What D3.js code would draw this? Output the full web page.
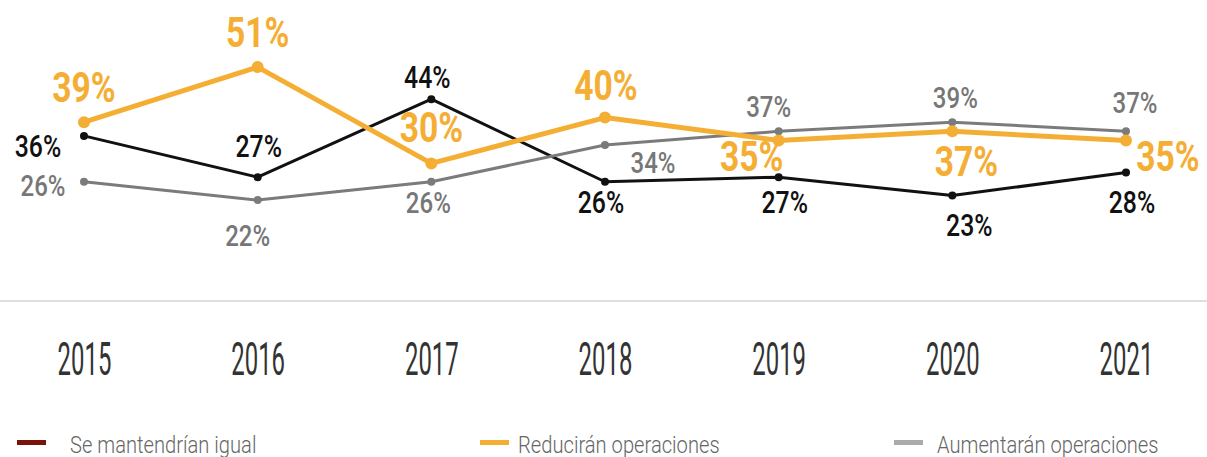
<!DOCTYPE html>
<html>
<head>
<meta charset="utf-8">
<script src="https://cdn.jsdelivr.net/npm/d3@7"></script>
<style>
  html, body { margin: 0; padding: 0; background: #fff; }
  svg { display: block; }
  text { font-family: Roboto, "Noto Sans", sans-serif; }
</style>
</head>
<body>
<svg id="chart" width="1207" height="457"></svg>
<script>
// ---- data ----
const years = ["2015", "2016", "2017", "2018", "2019", "2020", "2021"];
const seMantendrian = [36, 27, 44, 26, 27, 23, 28];
const reduciran = [39, 51, 30, 40, 35, 37, 35];
const aumentaran = [26, 22, 26, 34, 37, 39, 37];
const seriesNames = ["Se mantendrían igual", "Reducirán operaciones", "Aumentarán operaciones"];

// ---- label placement (layout, px offsets from the point) ----
const offMantendrian = [[-46, 21], [1, -20], [-4, -11], [-4, 31], [6, 36], [17, 40], [6, 40]];
const offReduciran = [[0, -20], [0, -20], [0, -21], [1, -18], [-27, 31], [14, 45], [42, 31]];
const offAumentaran = [[-41, 14], [-10, 46], [-3, 31], [48, 28], [-10, -14], [3, -14], [9, -18]];

const svg = d3.select("#chart");
const W = 1207;

const x = d3.scalePoint().domain(years).range([84, 1126]);
const y = d3.scaleLinear().domain([0, 60]).range([301, 301 - 60 * 4.586]);

// baseline / axis
const xAxis = d3.axisBottom(x).tickSize(0).tickPadding(0);
const axisG = svg.append("g").attr("transform", "translate(0,301)").call(xAxis);
axisG.select(".domain").remove();
svg.insert("line", ":first-child")
  .attr("x1", 0).attr("x2", W).attr("y1", 301).attr("y2", 301)
  .attr("stroke", "#dedede").attr("stroke-width", 2);
axisG.selectAll(".tick text")
  .attr("y", 0).attr("dy", null)
  .attr("transform", "translate(0,74) scale(0.52,1)")
  .attr("font-size", 46)
  .attr("font-family", "Roboto, sans-serif")
  .attr("fill", "#333")
  .attr("text-anchor", "middle");

const series = [
  { name: seriesNames[0], values: seMantendrian, offs: offMantendrian, color: "#111111", width: 3, r: 4, labelColor: "#111", fs: 31, fw: 500, sx: 0.8 },
  { name: seriesNames[2], values: aumentaran, offs: offAumentaran, color: "#7b7b7b", width: 3, r: 4, labelColor: "#777", fs: 30, fw: 500, sx: 0.8 },
  { name: seriesNames[1], values: reduciran, offs: offReduciran, color: "#f5ae34", width: 5, r: 6, labelColor: "#f5ae34", fs: 42, fw: 700, sx: 0.8 }
];

const line = d3.line().x(d => x(d.year)).y(d => y(d.v));

series.forEach(s => {
  const pts = years.map((yr, i) => ({ year: yr, v: s.values[i], off: s.offs[i] }));
  const g = svg.append("g");
  g.append("path").datum(pts)
    .attr("d", line)
    .attr("fill", "none")
    .attr("stroke", s.color)
    .attr("stroke-width", s.width)
    .attr("stroke-linejoin", "round");
  g.selectAll("circle").data(pts).join("circle")
    .attr("cx", d => x(d.year)).attr("cy", d => y(d.v))
    .attr("r", s.r).attr("fill", s.color);
  g.selectAll("text").data(pts).join("text")
    .attr("transform", d => `translate(${x(d.year) + d.off[0]},${y(d.v) + d.off[1]}) scale(${s.sx},1)`)
    .attr("text-anchor", "middle")
    .attr("font-size", s.fs)
    .attr("font-weight", s.fw)
    .attr("fill", s.labelColor)
    .text(d => d.v + "%");
});

// legend
const legendItems = [
  { name: seriesNames[0], color: "#7a1409", sx: 17, tx: 70 },
  { name: seriesNames[1], color: "#f5ae34", sx: 480, tx: 518 },
  { name: seriesNames[2], color: "#ababab", sx: 894, tx: 937 }
];
const lg = svg.append("g");
legendItems.forEach(it => {
  lg.append("rect").attr("x", it.sx).attr("y", 440).attr("width", 29).attr("height", 5).attr("fill", it.color);
  lg.append("text")
    .attr("transform", `translate(${it.tx},453) scale(0.84,1)`)
    .attr("font-size", 24)
    .attr("font-weight", 300)
    .attr("fill", "#666")
    .text(it.name);
});
</script>
</body>
</html>
